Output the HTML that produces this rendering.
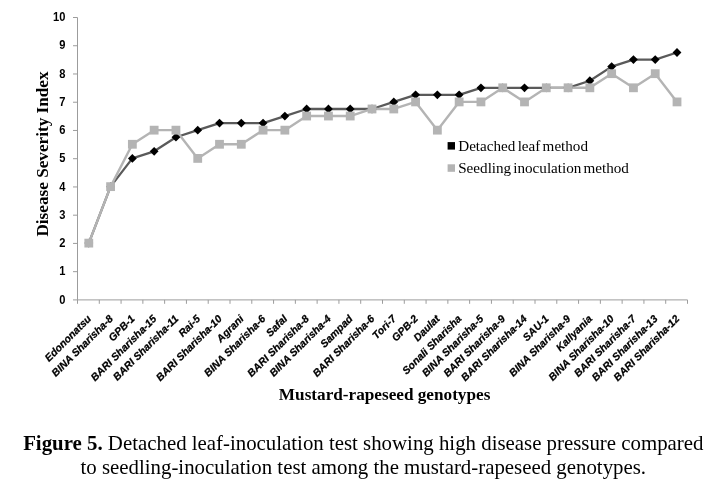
<!DOCTYPE html>
<html lang="en"><head><meta charset="utf-8"><title>Figure 5</title>
<style>
html,body{margin:0;padding:0;background:#fff;}
body{width:719px;height:493px;overflow:hidden;position:relative;font-family:"Liberation Serif","DejaVu Serif",serif;color:#000;}
svg{position:absolute;left:0;top:0;display:block;}
.tk{font-family:"Liberation Sans","DejaVu Sans",sans-serif;font-weight:bold;font-size:12.1px;fill:#000;}
.xl{font-family:"Liberation Sans","DejaVu Sans",sans-serif;font-weight:bold;font-style:italic;font-size:10.5px;fill:#000;stroke:#000;stroke-width:0.25px;}
.at{font-family:"Liberation Serif","DejaVu Serif",serif;font-weight:bold;font-size:17.2px;fill:#000;}
.lg{font-family:"Liberation Serif","DejaVu Serif",serif;font-size:15.15px;fill:#000;}
.cap{position:absolute;left:3.8px;top:430.9px;width:719px;margin:0;text-align:center;font-size:20.85px;line-height:24.3px;white-space:nowrap;}
.cap span{display:block;}
</style></head><body>
<svg width="719" height="493" viewBox="0 0 719 493">
<g stroke="#9c9c9c" stroke-width="1" fill="none">
<line x1="77.5" y1="17.5" x2="77.5" y2="299.9"/>
<line x1="77.5" y1="299.9" x2="687.5" y2="299.9"/>
<line x1="73.0" y1="299.90" x2="77.5" y2="299.90"/>
<line x1="73.0" y1="271.66" x2="77.5" y2="271.66"/>
<line x1="73.0" y1="243.42" x2="77.5" y2="243.42"/>
<line x1="73.0" y1="215.18" x2="77.5" y2="215.18"/>
<line x1="73.0" y1="186.94" x2="77.5" y2="186.94"/>
<line x1="73.0" y1="158.70" x2="77.5" y2="158.70"/>
<line x1="73.0" y1="130.46" x2="77.5" y2="130.46"/>
<line x1="73.0" y1="102.22" x2="77.5" y2="102.22"/>
<line x1="73.0" y1="73.98" x2="77.5" y2="73.98"/>
<line x1="73.0" y1="45.74" x2="77.5" y2="45.74"/>
<line x1="73.0" y1="17.50" x2="77.5" y2="17.50"/>
<line x1="77.50" y1="299.9" x2="77.50" y2="303.79999999999995"/>
<line x1="99.29" y1="299.9" x2="99.29" y2="303.79999999999995"/>
<line x1="121.07" y1="299.9" x2="121.07" y2="303.79999999999995"/>
<line x1="142.86" y1="299.9" x2="142.86" y2="303.79999999999995"/>
<line x1="164.64" y1="299.9" x2="164.64" y2="303.79999999999995"/>
<line x1="186.43" y1="299.9" x2="186.43" y2="303.79999999999995"/>
<line x1="208.21" y1="299.9" x2="208.21" y2="303.79999999999995"/>
<line x1="230.00" y1="299.9" x2="230.00" y2="303.79999999999995"/>
<line x1="251.79" y1="299.9" x2="251.79" y2="303.79999999999995"/>
<line x1="273.57" y1="299.9" x2="273.57" y2="303.79999999999995"/>
<line x1="295.36" y1="299.9" x2="295.36" y2="303.79999999999995"/>
<line x1="317.14" y1="299.9" x2="317.14" y2="303.79999999999995"/>
<line x1="338.93" y1="299.9" x2="338.93" y2="303.79999999999995"/>
<line x1="360.71" y1="299.9" x2="360.71" y2="303.79999999999995"/>
<line x1="382.50" y1="299.9" x2="382.50" y2="303.79999999999995"/>
<line x1="404.29" y1="299.9" x2="404.29" y2="303.79999999999995"/>
<line x1="426.07" y1="299.9" x2="426.07" y2="303.79999999999995"/>
<line x1="447.86" y1="299.9" x2="447.86" y2="303.79999999999995"/>
<line x1="469.64" y1="299.9" x2="469.64" y2="303.79999999999995"/>
<line x1="491.43" y1="299.9" x2="491.43" y2="303.79999999999995"/>
<line x1="513.21" y1="299.9" x2="513.21" y2="303.79999999999995"/>
<line x1="535.00" y1="299.9" x2="535.00" y2="303.79999999999995"/>
<line x1="556.79" y1="299.9" x2="556.79" y2="303.79999999999995"/>
<line x1="578.57" y1="299.9" x2="578.57" y2="303.79999999999995"/>
<line x1="600.36" y1="299.9" x2="600.36" y2="303.79999999999995"/>
<line x1="622.14" y1="299.9" x2="622.14" y2="303.79999999999995"/>
<line x1="643.93" y1="299.9" x2="643.93" y2="303.79999999999995"/>
<line x1="665.71" y1="299.9" x2="665.71" y2="303.79999999999995"/>
<line x1="687.50" y1="299.9" x2="687.50" y2="303.79999999999995"/>
</g>
<g class="tk" text-anchor="end">
<text transform="translate(65.4 303.50) scale(0.92 1)">0</text>
<text transform="translate(65.4 275.26) scale(0.92 1)">1</text>
<text transform="translate(65.4 247.02) scale(0.92 1)">2</text>
<text transform="translate(65.4 218.78) scale(0.92 1)">3</text>
<text transform="translate(65.4 190.54) scale(0.92 1)">4</text>
<text transform="translate(65.4 162.30) scale(0.92 1)">5</text>
<text transform="translate(65.4 134.06) scale(0.92 1)">6</text>
<text transform="translate(65.4 105.82) scale(0.92 1)">7</text>
<text transform="translate(65.4 77.58) scale(0.92 1)">8</text>
<text transform="translate(65.4 49.34) scale(0.92 1)">9</text>
<text transform="translate(65.4 21.10) scale(0.92 1)">10</text>
</g>
<polyline points="88.79,243.12 110.58,186.64 132.36,158.40 154.15,151.34 175.94,137.22 197.72,130.16 219.51,123.10 241.29,123.10 263.08,123.10 284.86,116.04 306.65,108.98 328.44,108.98 350.22,108.98 372.01,108.98 393.79,101.92 415.58,94.86 437.36,94.86 459.15,94.86 480.94,87.80 502.72,87.80 524.51,87.80 546.29,87.80 568.08,87.80 589.86,80.74 611.65,66.62 633.44,59.56 655.22,59.56 677.01,52.50" fill="none" stroke="#5a5a5a" stroke-width="2.3" stroke-linejoin="round" stroke-linecap="round"/>
<polyline points="88.79,243.12 110.58,186.64 132.36,144.28 154.15,130.16 175.94,130.16 197.72,158.40 219.51,144.28 241.29,144.28 263.08,130.16 284.86,130.16 306.65,116.04 328.44,116.04 350.22,116.04 372.01,108.98 393.79,108.98 415.58,101.92 437.36,130.16 459.15,101.92 480.94,101.92 502.72,87.80 524.51,101.92 546.29,87.80 568.08,87.80 589.86,87.80 611.65,73.68 633.44,87.80 655.22,73.68 677.01,101.92" fill="none" stroke="#b4b4b4" stroke-width="2.4" stroke-linejoin="round" stroke-linecap="round"/>
<g fill="#000">
<path d="M88.79 238.72L93.19 243.12L88.79 247.52L84.39 243.12Z"/>
<path d="M110.58 182.24L114.98 186.64L110.58 191.04L106.18 186.64Z"/>
<path d="M132.36 154.00L136.76 158.40L132.36 162.80L127.96 158.40Z"/>
<path d="M154.15 146.94L158.55 151.34L154.15 155.74L149.75 151.34Z"/>
<path d="M175.94 132.82L180.34 137.22L175.94 141.62L171.54 137.22Z"/>
<path d="M197.72 125.76L202.12 130.16L197.72 134.56L193.32 130.16Z"/>
<path d="M219.51 118.70L223.91 123.10L219.51 127.50L215.11 123.10Z"/>
<path d="M241.29 118.70L245.69 123.10L241.29 127.50L236.89 123.10Z"/>
<path d="M263.08 118.70L267.48 123.10L263.08 127.50L258.68 123.10Z"/>
<path d="M284.86 111.64L289.26 116.04L284.86 120.44L280.46 116.04Z"/>
<path d="M306.65 104.58L311.05 108.98L306.65 113.38L302.25 108.98Z"/>
<path d="M328.44 104.58L332.84 108.98L328.44 113.38L324.04 108.98Z"/>
<path d="M350.22 104.58L354.62 108.98L350.22 113.38L345.82 108.98Z"/>
<path d="M372.01 104.58L376.41 108.98L372.01 113.38L367.61 108.98Z"/>
<path d="M393.79 97.52L398.19 101.92L393.79 106.32L389.39 101.92Z"/>
<path d="M415.58 90.46L419.98 94.86L415.58 99.26L411.18 94.86Z"/>
<path d="M437.36 90.46L441.76 94.86L437.36 99.26L432.96 94.86Z"/>
<path d="M459.15 90.46L463.55 94.86L459.15 99.26L454.75 94.86Z"/>
<path d="M480.94 83.40L485.34 87.80L480.94 92.20L476.54 87.80Z"/>
<path d="M502.72 83.40L507.12 87.80L502.72 92.20L498.32 87.80Z"/>
<path d="M524.51 83.40L528.91 87.80L524.51 92.20L520.11 87.80Z"/>
<path d="M546.29 83.40L550.69 87.80L546.29 92.20L541.89 87.80Z"/>
<path d="M568.08 83.40L572.48 87.80L568.08 92.20L563.68 87.80Z"/>
<path d="M589.86 76.34L594.26 80.74L589.86 85.14L585.46 80.74Z"/>
<path d="M611.65 62.22L616.05 66.62L611.65 71.02L607.25 66.62Z"/>
<path d="M633.44 55.16L637.84 59.56L633.44 63.96L629.04 59.56Z"/>
<path d="M655.22 55.16L659.62 59.56L655.22 63.96L650.82 59.56Z"/>
<path d="M677.01 48.10L681.41 52.50L677.01 56.90L672.61 52.50Z"/>
</g>
<g fill="#b4b4b4">
<rect x="84.39" y="238.72" width="8.8" height="8.8"/>
<rect x="106.18" y="182.24" width="8.8" height="8.8"/>
<rect x="127.96" y="139.88" width="8.8" height="8.8"/>
<rect x="149.75" y="125.76" width="8.8" height="8.8"/>
<rect x="171.54" y="125.76" width="8.8" height="8.8"/>
<rect x="193.32" y="154.00" width="8.8" height="8.8"/>
<rect x="215.11" y="139.88" width="8.8" height="8.8"/>
<rect x="236.89" y="139.88" width="8.8" height="8.8"/>
<rect x="258.68" y="125.76" width="8.8" height="8.8"/>
<rect x="280.46" y="125.76" width="8.8" height="8.8"/>
<rect x="302.25" y="111.64" width="8.8" height="8.8"/>
<rect x="324.04" y="111.64" width="8.8" height="8.8"/>
<rect x="345.82" y="111.64" width="8.8" height="8.8"/>
<rect x="367.61" y="104.58" width="8.8" height="8.8"/>
<rect x="389.39" y="104.58" width="8.8" height="8.8"/>
<rect x="411.18" y="97.52" width="8.8" height="8.8"/>
<rect x="432.96" y="125.76" width="8.8" height="8.8"/>
<rect x="454.75" y="97.52" width="8.8" height="8.8"/>
<rect x="476.54" y="97.52" width="8.8" height="8.8"/>
<rect x="498.32" y="83.40" width="8.8" height="8.8"/>
<rect x="520.11" y="97.52" width="8.8" height="8.8"/>
<rect x="541.89" y="83.40" width="8.8" height="8.8"/>
<rect x="563.68" y="83.40" width="8.8" height="8.8"/>
<rect x="585.46" y="83.40" width="8.8" height="8.8"/>
<rect x="607.25" y="69.28" width="8.8" height="8.8"/>
<rect x="629.04" y="83.40" width="8.8" height="8.8"/>
<rect x="650.82" y="69.28" width="8.8" height="8.8"/>
<rect x="672.61" y="97.52" width="8.8" height="8.8"/>
</g>
<g class="xl" text-anchor="end">
<text transform="translate(91.89 319.40) rotate(-45)">Edononatsu</text>
<text transform="translate(113.68 319.40) rotate(-45)">BINA Sharisha-8</text>
<text transform="translate(135.46 319.40) rotate(-45)">GPB-1</text>
<text transform="translate(157.25 319.40) rotate(-45)">BARI Sharisha-15</text>
<text transform="translate(179.04 319.40) rotate(-45)">BARI Sharisha-11</text>
<text transform="translate(200.82 319.40) rotate(-45)">Rai-5</text>
<text transform="translate(222.61 319.40) rotate(-45)">BARI Sharisha-10</text>
<text transform="translate(244.39 319.40) rotate(-45)">Agrani</text>
<text transform="translate(266.18 319.40) rotate(-45)">BINA Sharisha-6</text>
<text transform="translate(287.96 319.40) rotate(-45)">Safal</text>
<text transform="translate(309.75 319.40) rotate(-45)">BARI Sharisha-8</text>
<text transform="translate(331.54 319.40) rotate(-45)">BINA Sharisha-4</text>
<text transform="translate(353.32 319.40) rotate(-45)">Sampad</text>
<text transform="translate(375.11 319.40) rotate(-45)">BARI Sharisha-6</text>
<text transform="translate(396.89 319.40) rotate(-45)">Tori-7</text>
<text transform="translate(418.68 319.40) rotate(-45)">GPB-2</text>
<text transform="translate(440.46 319.40) rotate(-45)">Daulat</text>
<text transform="translate(462.25 319.40) rotate(-45)">Sonali Sharisha</text>
<text transform="translate(484.04 319.40) rotate(-45)">BINA Sharisha-5</text>
<text transform="translate(505.82 319.40) rotate(-45)">BARI Sharisha-9</text>
<text transform="translate(527.61 319.40) rotate(-45)">BARI Sharisha-14</text>
<text transform="translate(549.39 319.40) rotate(-45)">SAU-1</text>
<text transform="translate(571.18 319.40) rotate(-45)">BINA Sharisha-9</text>
<text transform="translate(592.96 319.40) rotate(-45)">Kallyania</text>
<text transform="translate(614.75 319.40) rotate(-45)">BINA Sharisha-10</text>
<text transform="translate(636.54 319.40) rotate(-45)">BARI Sharisha-7</text>
<text transform="translate(658.32 319.40) rotate(-45)">BARI Sharisha-13</text>
<text transform="translate(680.11 319.40) rotate(-45)">BARI Sharisha-12</text>
</g>
<text class="at" text-anchor="middle" transform="translate(47.8 154) rotate(-90)">Disease Severity Index</text>
<text class="at" text-anchor="middle" x="384.6" y="399.7">Mustard-rapeseed genotypes</text>
<rect x="447.6" y="142.1" width="7.4" height="7.5" fill="#000"/>
<text class="lg" transform="translate(458.2 150.7) scale(1 1.025)" word-spacing="-1.5">Detached leaf method</text>
<rect x="447.6" y="164.3" width="7.4" height="7.5" fill="#b4b4b4"/>
<text class="lg" transform="translate(458.2 172.8) scale(1 1.025)" word-spacing="-1.7">Seedling inoculation method</text>
</svg>
<p class="cap"><span><b>Figure 5.</b> Detached leaf-inoculation test showing high disease pressure compared</span><span>to seedling-inoculation test among the mustard-rapeseed genotypes.</span></p>
</body></html>
